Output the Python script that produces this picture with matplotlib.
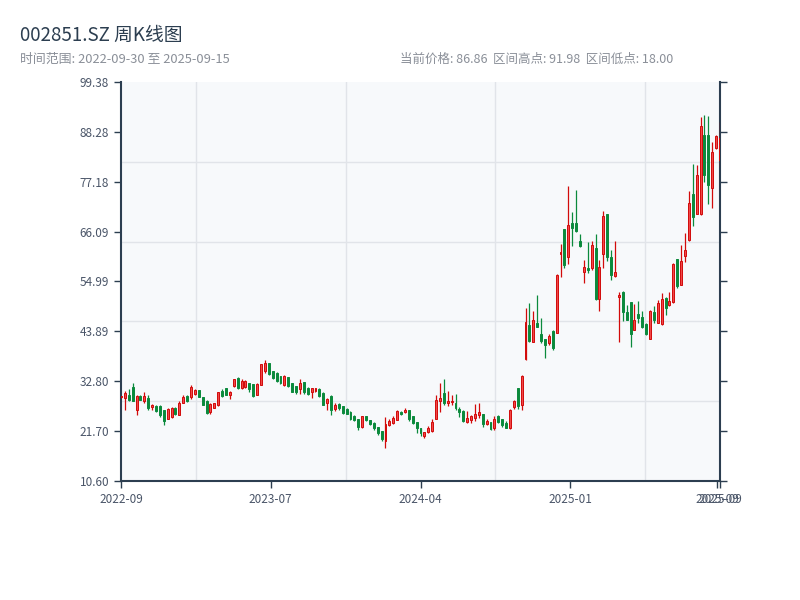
import matplotlib
matplotlib.use("Agg")
import matplotlib.pyplot as plt
import numpy as np

plt.rcParams['font.family'] = ['Noto Sans CJK SC', 'DejaVu Sans']

title = "002851.SZ 周K线图"
subtitle_left = "时间范围: 2022-09-30 至 2025-09-15"
subtitle_right = "当前价格: 86.86  区间高点: 91.98  区间低点: 18.00"

opens = [29.2, 29.0, 29.7, 31.5, 26.4, 29.5, 28.5, 29.0, 27.0, 27.3,
         27.2, 26.4, 24.5, 24.8, 26.9, 25.3, 28.0, 29.5, 29.2, 30.0,
         30.8, 29.3, 28.5, 26.0, 26.9, 27.5, 30.7, 31.2, 29.8, 31.8,
         33.5, 31.2, 31.5, 32.3, 32.1, 29.8, 32.0, 35.0, 36.8, 35.0,
         34.7, 34.0, 32.0, 33.8, 32.3, 31.7, 31.0, 32.7, 31.4, 30.3,
         30.6, 31.0, 30.2, 28.0, 29.6, 26.7, 27.8, 27.2, 26.7, 26.0,
         25.1, 24.3, 22.7, 25.0, 24.2, 23.6, 22.6, 21.7, 19.5, 23.0,
         23.6, 24.2, 26.0, 26.0, 26.3, 25.0, 23.8, 22.4, 20.7, 21.5,
         21.8, 24.5, 28.4, 30.1, 27.9, 28.1, 27.9, 26.7, 26.2, 23.8,
         24.2, 24.7, 25.3, 25.5, 23.3, 23.7, 22.3, 25.0, 24.3, 23.6,
         22.3, 27.1, 31.2, 27.5, 37.7, 45.3, 41.6, 45.7, 43.4, 42.1,
         41.2, 44.0, 43.6, 61.1, 66.6, 60.4, 67.9, 68.0, 64.0, 57.0,
         58.1, 57.9, 62.4, 51.2, 61.2, 70.1, 60.5, 56.3, 51.5, 52.7,
         48.3, 50.5, 44.3, 47.7, 47.1, 45.5, 42.3, 48.3, 45.8, 45.5,
         51.4, 49.7, 50.5, 60.0, 54.3, 60.6, 64.2, 74.5, 70.1, 70.1,
         87.6, 87.6, 75.7, 84.6, 82.0]
highs = [29.6, 30.6, 31.0, 32.3, 29.7, 29.8, 30.3, 29.7, 27.8, 27.5,
         27.5, 26.5, 26.8, 27.0, 27.1, 28.4, 29.7, 29.7, 32.0, 31.0,
         30.8, 29.4, 28.6, 27.9, 28.0, 30.5, 31.0, 31.2, 30.6, 33.4,
         33.7, 33.2, 33.1, 32.4, 32.2, 32.4, 36.7, 37.5, 36.9, 35.0,
         34.8, 34.0, 34.2, 33.8, 32.4, 31.7, 33.4, 32.7, 31.6, 31.4,
         31.4, 31.2, 30.3, 29.0, 29.7, 27.9, 28.0, 27.3, 26.9, 26.1,
         25.3, 24.5, 25.1, 25.1, 24.2, 23.8, 22.7, 21.8, 24.9, 24.3,
         25.1, 26.3, 26.2, 26.8, 26.3, 25.1, 23.8, 22.4, 21.6, 22.8,
         24.3, 29.7, 32.3, 33.4, 30.6, 29.7, 29.9, 27.0, 26.4, 26.2,
         25.3, 27.7, 27.9, 25.6, 24.5, 23.8, 25.0, 25.3, 24.5, 24.0,
         26.6, 28.6, 31.2, 34.2, 49.0, 50.3, 48.4, 52.0, 46.8, 42.3,
         43.4, 44.2, 56.6, 63.3, 66.6, 76.2, 70.4, 75.3, 65.5, 59.8,
         63.7, 64.0, 65.5, 59.8, 70.7, 70.1, 62.1, 64.0, 52.6, 52.9,
         49.7, 50.5, 50.0, 50.6, 48.4, 45.7, 48.6, 49.5, 50.8, 52.5,
         51.6, 52.6, 59.0, 60.0, 63.1, 65.8, 75.2, 81.1, 80.9, 91.7,
         91.98, 91.9, 86.1, 87.6, 90.4]
lows = [29.0, 26.5, 28.5, 28.3, 25.3, 28.6, 27.9, 26.5, 26.4, 26.0,
        24.9, 23.1, 24.3, 24.6, 25.3, 25.2, 27.9, 28.2, 28.8, 29.7,
        29.2, 27.5, 25.6, 25.6, 26.8, 27.3, 29.3, 29.7, 28.8, 31.6,
        31.0, 31.0, 31.2, 30.5, 29.3, 29.7, 32.0, 34.6, 34.2, 33.4,
        32.6, 32.2, 31.7, 31.6, 30.3, 30.0, 29.9, 30.0, 29.7, 29.0,
        30.3, 29.4, 27.5, 26.4, 25.3, 26.2, 26.5, 25.5, 25.5, 24.2,
        24.0, 21.9, 22.3, 24.0, 23.0, 22.0, 20.8, 19.4, 18.0, 22.8,
        23.3, 24.2, 25.3, 25.7, 24.0, 23.3, 21.2, 20.6, 20.2, 21.2,
        21.5, 24.4, 26.0, 27.5, 27.3, 27.5, 26.5, 24.9, 23.8, 23.6,
        23.6, 24.0, 24.7, 22.7, 23.0, 22.0, 21.9, 23.4, 22.7, 22.3,
        22.1, 26.7, 26.7, 26.5, 37.5, 41.6, 41.5, 44.8, 41.2, 37.9,
        40.8, 39.7, 43.5, 55.9, 57.9, 58.8, 63.0, 66.1, 62.7, 54.7,
        56.8, 57.5, 50.9, 48.5, 58.0, 59.6, 55.3, 56.0, 41.6, 46.2,
        46.4, 40.5, 44.2, 45.8, 44.7, 43.1, 42.3, 45.8, 45.7, 45.3,
        47.5, 49.6, 50.3, 53.6, 54.2, 59.4, 64.0, 67.3, 69.9, 69.8,
        77.2, 72.2, 71.4, 84.4, 80.5]
closes = [29.5, 30.1, 28.6, 28.5, 29.5, 28.7, 29.5, 26.8, 27.5, 26.2,
          25.3, 24.0, 26.7, 26.8, 25.5, 28.0, 29.3, 28.3, 31.5, 30.8,
          29.3, 27.6, 25.8, 27.8, 27.9, 30.3, 29.5, 29.8, 30.5, 33.2,
          31.3, 32.8, 32.9, 31.0, 29.5, 32.2, 36.6, 36.8, 34.5, 33.5,
          32.8, 32.4, 34.0, 31.7, 30.4, 30.3, 32.3, 30.4, 30.0, 31.2,
          31.2, 29.6, 27.6, 28.8, 26.3, 27.6, 26.9, 25.8, 25.6, 24.5,
          24.2, 22.6, 25.0, 24.2, 23.3, 22.3, 21.2, 19.9, 23.2, 23.9,
          24.6, 26.2, 25.4, 26.5, 24.3, 23.6, 22.5, 21.2, 21.4, 22.5,
          23.8, 28.6, 29.0, 27.9, 28.5, 28.4, 26.8, 26.0, 24.0, 24.7,
          25.1, 25.5, 26.0, 23.3, 24.0, 22.1, 24.3, 23.8, 23.0, 22.4,
          26.4, 28.5, 27.3, 34.0, 45.9, 41.7, 46.4, 44.9, 41.8, 40.8,
          42.9, 40.3, 56.5, 61.5, 58.7, 67.6, 67.0, 66.3, 63.0, 58.2,
          57.5, 63.1, 51.0, 58.3, 69.5, 60.5, 56.4, 57.2, 51.9, 48.3,
          46.5, 43.4, 46.4, 46.8, 44.9, 43.2, 48.4, 46.4, 50.1, 51.0,
          49.0, 50.6, 58.9, 54.0, 59.6, 62.0, 72.4, 69.3, 78.7, 89.6,
          78.7, 76.5, 83.9, 87.4, 86.86]

x_tick_labels = ["2022-09", "2023-07", "2024-04", "2025-01", "2025-09", "2025-09"]
y_tick_labels = ["10.60", "21.70", "32.80", "43.89", "54.99", "66.09", "77.18", "88.28", "99.38"]
y_min, y_max = 10.60, 99.38

UP_EDGE = "#d20a0a"
UP_FILL = "#f04848"
DOWN = "#0b8a3c"
SPINE = "#2c3e50"
TICK_TXT = "#4a5568"

o = np.array(opens); h = np.array(highs); l = np.array(lows); c = np.array(closes)
n = len(o)
x = np.arange(n)
up = c >= o

fig = plt.figure(figsize=(8, 6), dpi=100)
ax = fig.add_axes([121/800, 1-481/600, 599/800, 399/600])
ax.set_facecolor("#f7f9fb")

wick_colors = np.where(up, UP_EDGE, DOWN)
ax.vlines(x, l, h, colors=wick_colors, linewidth=0.9, zorder=3)
body_bottom = np.minimum(o, c)
body_h = np.maximum(np.abs(c - o), 0.15)
ax.bar(x[up], body_h[up], bottom=body_bottom[up], width=0.5,
       color=UP_FILL, edgecolor=UP_EDGE, linewidth=0.7, zorder=4)
ax.bar(x[~up], body_h[~up], bottom=body_bottom[~up], width=0.5,
       color=DOWN, edgecolor=DOWN, linewidth=0.7, zorder=4)

ax.set_xlim(0, n - 1)
ax.set_ylim(y_min, y_max)

yt = np.linspace(y_min, y_max, len(y_tick_labels))
ax.set_yticks(yt)
ax.set_yticklabels(y_tick_labels)
ax.set_yticks(np.linspace(y_min, y_max, 6)[1:-1], minor=True)

span = n - 1
xt = [0, span/4, span/2, 3*span/4, span - 0.7, span]
ax.set_xticks(xt)
ax.set_xticklabels(x_tick_labels)
ax.set_xticks([span/8, 3*span/8, 5*span/8, 7*span/8], minor=True)

ax.grid(which="minor", color="#e1e4e9", linewidth=1.0, zorder=0)
ax.grid(which="major", visible=False)
ax.set_axisbelow(True)

ax.tick_params(axis="both", which="minor", length=0)
ax.tick_params(axis="both", which="major", length=5, width=1, color=SPINE,
               labelsize=8.5, labelcolor=TICK_TXT, direction="out")
ax.tick_params(axis="y", which="major", right=True, labelright=False)

for side in ["left", "bottom", "right"]:
    ax.spines[side].set_color(SPINE)
    ax.spines[side].set_linewidth(1.5)
ax.spines["top"].set_visible(False)

fig.text(20/800, 1-35/600, title, fontsize=13.5, color="#2c3e50", va="center", ha="left")
fig.text(20/800, 1-59/600, subtitle_left, fontsize=9.3, color="#8a8f98", va="center", ha="left")
fig.text(400/800, 1-59/600, subtitle_right, fontsize=9, color="#8a8f98", va="center", ha="left")

fig.savefig("out.png", dpi=100)
